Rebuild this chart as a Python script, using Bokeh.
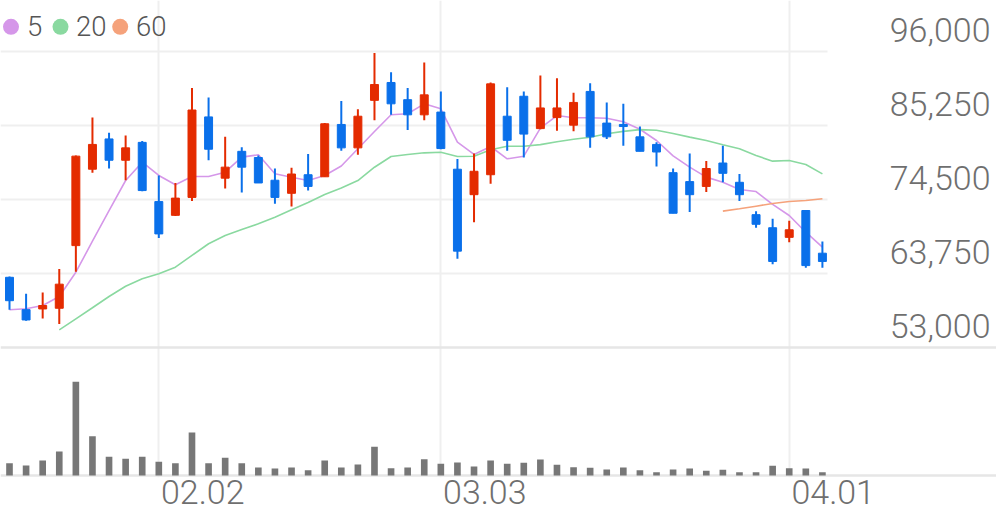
import numpy as np
from bokeh.plotting import figure
from bokeh.models import (ColumnDataSource, Range1d, FixedTicker, BoxAnnotation, Label, Grid)
from bokeh.embed import file_html
from bokeh.resources import INLINE

# ---------------- data ----------------
dates = ["01.20", "01.21", "01.22", "01.23", "01.26", "01.27", "01.28", "01.29", "01.30",
         "02.02", "02.03", "02.04", "02.05", "02.06", "02.09", "02.10", "02.11", "02.12", "02.13",
         "02.19", "02.20", "02.23", "02.24", "02.25", "02.26", "02.27",
         "03.03", "03.04", "03.05", "03.06", "03.09", "03.10", "03.11", "03.12", "03.13",
         "03.16", "03.17", "03.18", "03.19", "03.20", "03.23", "03.24", "03.25", "03.26", "03.27",
         "03.30", "03.31", "04.01", "04.02", "04.03"]
opens = [63200, 58500, 58600, 58700, 67800, 78900, 83300, 80200, 82800, 74200,
         72200, 74800, 86500, 77600, 81500, 80600, 77300, 75400, 78100, 77800,
         85400, 82000, 88900, 91500, 89000, 86800, 87200, 78900, 75200, 78100,
         86600, 89500, 84800, 86400, 85300, 90200, 85600, 85400, 83600, 82500,
         78400, 77100, 76400, 79800, 77000, 72300, 70400, 69000, 72900, 66700]
highs = [63300, 60800, 61000, 64400, 80900, 86400, 84200, 83800, 83000, 78000,
         76900, 90700, 89300, 83600, 82100, 80900, 79000, 79100, 81100, 85600,
         88800, 87600, 95800, 93000, 90700, 94400, 90200, 80400, 81200, 91500,
         90800, 90200, 92500, 92100, 90000, 91400, 88600, 88400, 85100, 82800,
         79000, 81200, 80100, 82300, 78200, 72800, 71700, 71400, 72900, 68400]
lows = [58500, 56900, 57200, 56400, 64000, 78400, 79000, 77300, 75700, 68900,
        72100, 74300, 80200, 76100, 75500, 76900, 73900, 73500, 75800, 77800,
        81600, 81000, 86000, 86800, 84600, 86000, 81800, 65900, 71200, 76800,
        81600, 80600, 84700, 84500, 84400, 82000, 83300, 82300, 81500, 79300,
        72500, 72700, 75600, 77000, 74300, 70400, 65100, 68300, 64600, 64600]
closes = [59800, 57000, 59100, 62200, 80800, 82500, 80200, 82000, 75800, 69500,
          74700, 87500, 81800, 79200, 79200, 76900, 74800, 78200, 76400, 85500,
          82000, 86600, 91200, 88400, 86800, 89700, 81900, 67000, 78600, 91300,
          83100, 84000, 87800, 87800, 88600, 83600, 83600, 85100, 81500, 81400,
          72500, 75200, 79000, 78300, 75200, 70900, 65500, 70100, 64900, 65500]
volumes = [308, 250, 375, 600, 2343, 983, 468, 418, 468, 343,
           308, 1075, 308, 443, 308, 200, 175, 200, 133, 375,
           200, 275, 718, 183, 200, 408, 293, 325, 225, 375,
           293, 318, 400, 268, 208, 193, 150, 200, 133, 83,
           150, 175, 118, 143, 83, 83, 243, 183, 175, 83]
ma5 = [58480, 58620, 59100, 60410, 63940, 68440, 72900, 77260, 79920, 77990,
       76640, 77840, 77840, 78470, 80650, 80990, 78230, 77740, 77260, 77990,
       79370, 81870, 84380, 86810, 86950, 88400, 87680, 82820, 81040, 82200,
       80410, 80790, 84860, 86700, 86370, 86370, 86300, 85800, 84700, 83070,
       80850, 79200, 77750, 77020, 75950, 75660, 73780, 72180, 69750, 67580]
ma20 = [None, None, None, 55570, 57170, 58770, 60410, 61900, 62980, 63710,
        64670, 66370, 68070, 69270, 70140, 70970, 71930, 73000, 74060, 75230,
        76170, 77260, 79190, 80750, 81040, 81280, 81370, 80750, 80790, 81720,
        82240, 82240, 82470, 82900, 83260, 83550, 84040, 84400, 84650, 84570,
        84100, 83560, 83070, 82440, 81860, 80890, 80070, 80170, 79590, 78230]
ma60 = [None] * 43 + [72810, 73150, 73530, 73920, 74210, 74360, 74600]

ma_names = ["5", "20", "60"]
price_ticks = [53000, 63750, 74500, 85250, 96000]
price_tick_labels = ["53,000", "63,750", "74,500", "85,250", "96,000"]
date_tick_labels = ["02.02", "03.03", "04.01"]
volume_top = 3200   # volume value at the price/volume divider

# ---------------- styles / geometry ----------------
FONT = "Roboto Light"
RED = "#e42b00"
BLUE = "#0a70ea"
MA_COLORS = ["#d597e9", "#8ad9a0", "#f5a27b"]
GRID = "#efefef"
DIVIDER = "#e6e6e6"
LABEL_COLOR = "#6f6f6f"

W, H = 996, 519
FRAME_BOTTOM = 477                 # px from top
PX_PER_DAY = 16.59
X_START = -9 / PX_PER_DAY
X_END = X_START + W / PX_PER_DAY
X_PRICE_END = (827 - 9) / PX_PER_DAY
PRICE_PER_PX = 145.27
Y_END = 96000 + 51 * PRICE_PER_PX
Y_START = 96000 - (FRAME_BOTTOM - 51) * PRICE_PER_PX
VOL_PER_PX = 25.0
VOL_START = -(FRAME_BOTTOM - 475) * VOL_PER_PX
VOL_END = VOL_START + FRAME_BOTTOM * VOL_PER_PX
Y_LABEL_SHIFT = 3120      # price labels sit above their grid lines
X_LABEL_SHIFT = 2.65      # date labels sit right of their grid lines

n = len(dates)
xs = list(range(n))
colors = [RED if c >= o else BLUE for o, c in zip(opens, closes)]
src = ColumnDataSource(dict(
    x=xs, high=highs, low=lows,
    top=[max(o, c) for o, c in zip(opens, closes)],
    bottom=[min(o, c) for o, c in zip(opens, closes)],
    color=colors, volume=volumes,
))
tick_idx = [dates.index(d) for d in date_tick_labels]

p = figure(width=W, height=H, output_backend="svg", toolbar_location=None,
           x_range=Range1d(X_START, X_END), y_range=Range1d(Y_START, Y_END),
           x_axis_location="below", y_axis_location=None,
           min_border_left=0, min_border_right=0, min_border_top=0,
           min_border_bottom=H - FRAME_BOTTOM)
p.extra_y_ranges = {"vol": Range1d(VOL_START, VOL_END)}
p.outline_line_color = None
for g in p.grid:
    g.visible = False

# grids
p.add_layout(Grid(dimension=0, ticker=FixedTicker(ticks=tick_idx, minor_ticks=[]),
                  grid_line_color=GRID, grid_line_width=2))
price_grid = Grid(dimension=1, ticker=FixedTicker(ticks=price_ticks[1:], minor_ticks=[]),
                  grid_line_color=GRID, grid_line_width=2)
if "cross_bounds" in Grid.properties():
    price_grid.cross_bounds = (X_START, X_PRICE_END)
p.add_layout(price_grid)
p.add_layout(Grid(dimension=1, ticker=FixedTicker(ticks=[0, volume_top], minor_ticks=[]),
                  y_range_name="vol", grid_line_color=DIVIDER, grid_line_width=2.5))

# date axis
xa = p.xaxis[0]
xa.ticker = FixedTicker(ticks=[i + X_LABEL_SHIFT for i in tick_idx], minor_ticks=[])
xa.major_label_overrides = {i + X_LABEL_SHIFT: lab for i, lab in zip(tick_idx, date_tick_labels)}
xa.axis_line_color = None
xa.major_tick_line_color = None
xa.minor_tick_line_color = None
xa.major_tick_out = 0
xa.major_label_standoff = 2
xa.major_label_text_font = FONT
xa.major_label_text_font_size = "34px"
xa.major_label_text_color = LABEL_COLOR

# price labels
for v, lab in zip(price_ticks, price_tick_labels):
    p.add_layout(Label(x=990, x_units="screen", y=v + Y_LABEL_SHIFT, y_units="data", text=lab,
                       text_font=FONT, text_font_size="34px", text_color=LABEL_COLOR,
                       text_align="right", text_baseline="middle"))

# volume
p.vbar(x="x", top="volume", bottom=0, width=0.4, source=src, y_range_name="vol",
       fill_color="#777777", line_color=None)

# moving averages
for vals, col in zip([ma5, ma20, ma60], MA_COLORS):
    p.line(xs, np.array(vals, dtype=float), line_color=col, line_width=1.6)

# candles
p.segment(x0="x", y0="high", x1="x", y1="low", source=src, line_color="color", line_width=2)
p.vbar(x="x", top="top", bottom="bottom", width=0.48, source=src,
       fill_color="color", line_color="color", line_width=1)

# legend (circles + labels), screen units measured from the frame's bottom-left
leg_cx = [10.5, 60, 119.7]
leg_tx = [26.5, 75.5, 135.5]
for cx, tx, col, name in zip(leg_cx, leg_tx, MA_COLORS, ma_names):
    cy = FRAME_BOTTOM - 26.3
    p.add_layout(BoxAnnotation(left=cx - 8, right=cx + 8, bottom=cy - 8, top=cy + 8,
                               left_units="screen", right_units="screen",
                               top_units="screen", bottom_units="screen",
                               fill_color=col, fill_alpha=1, line_color=None, border_radius=8))
    p.add_layout(Label(x=tx, y=FRAME_BOTTOM - 25, x_units="screen", y_units="screen", text=name,
                       text_font=FONT, text_font_size="27.5px", text_color="#555555",
                       text_baseline="middle", text_align="left"))

open("out.html", "w").write(file_html(p, INLINE))
